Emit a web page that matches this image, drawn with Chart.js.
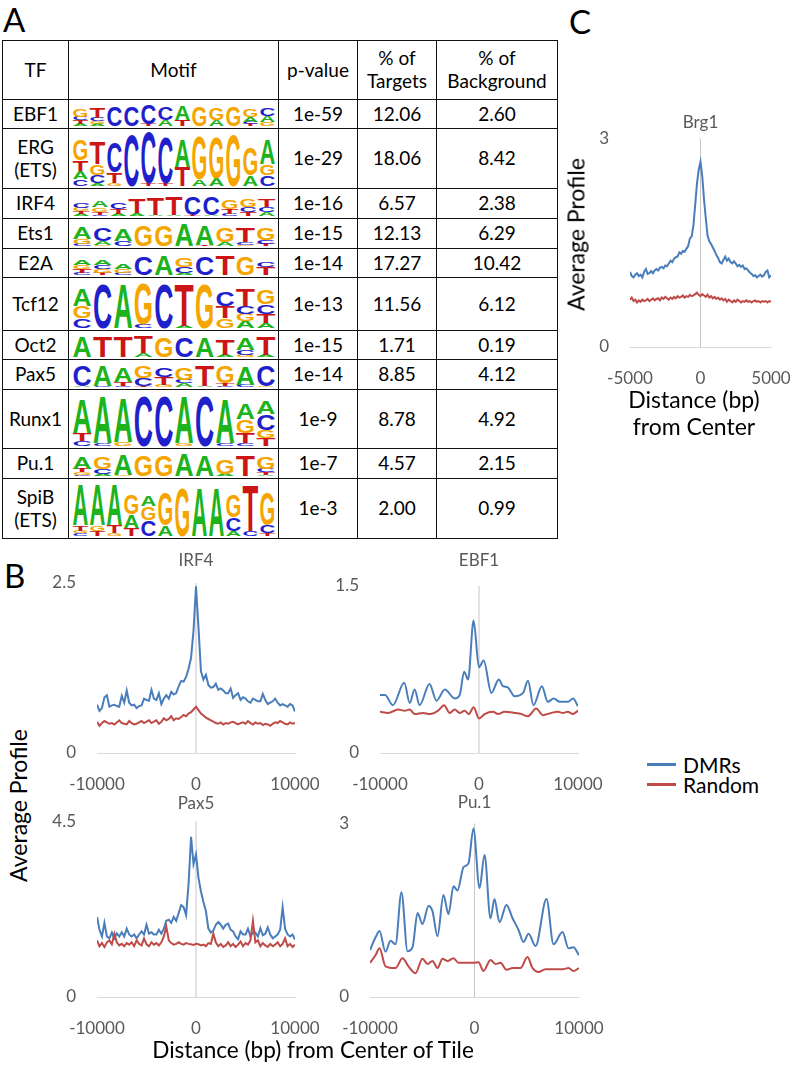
<!DOCTYPE html>
<html>
<head>
<meta charset="utf-8">
<title>Motif enrichment and binding profiles</title>
<script src="https://cdn.jsdelivr.net/npm/chart.js@4.4.1/dist/chart.umd.min.js"></script>
<style>
  body { margin: 0; background: #fff; }
  #page { position: relative; width: 793px; height: 1066px; overflow: hidden; font-family: Lato, "Open Sans", sans-serif; color: #000; }
  .txt { position: absolute; white-space: nowrap; line-height: 1; }
  #motifs { position: absolute; left: 2px; top: 40px; border-collapse: collapse; table-layout: fixed; font-size: 19px; }
  #motifs td { border: 1.5px solid #111; text-align: center; vertical-align: middle; padding: 0; line-height: 1.2; }
  #motifs svg { display: block; margin: 0 auto; }
</style>
</head>
<body>
<div id="page"></div>
<script>
// ---- panel A table ----
const tfNames = ["EBF1", "ERG\n(ETS)", "IRF4", "Ets1", "E2A", "Tcf12", "Oct2", "Pax5", "Runx1", "Pu.1", "SpiB\n(ETS)"];
const pValues = ["1e-59", "1e-29", "1e-16", "1e-15", "1e-14", "1e-13", "1e-15", "1e-14", "1e-9", "1e-7", "1e-3"];
const pctTargets = ["12.06", "18.06", "6.57", "12.13", "17.27", "11.56", "1.71", "8.85", "8.78", "4.57", "2.00"];
const pctBackground = ["2.60", "8.42", "2.38", "6.29", "10.42", "6.12", "0.19", "4.12", "4.92", "2.15", "0.99"];
// letter + relative height, top to bottom, columns split by |
const motifs = [
  "G30 C15 T15 A8|T45 C15 G12 A8|C85|C85|C85 T8|C55 A25|A60 T25|G85|G50 A25|G85|G35 A20 C10 T8|C35 A25 G15",
  "G38 T20 A15 C12|T42 G20 C15 A5|C55 T20 G5|C95|C95 T5|C85 T5|A50 T35|G80 A12|G75 A15|G95|G50 A20|A45 G20 C20",
  "C22 G14 T12 A8|A25 G18 T12 C6|C25 T20 A10|T60 A12|T70 A6|T72 A6|C75 T5|C75 A5|G35 T20 C8|G30 C20 T15|T30 C20 A15",
  "A45 G20 C10|C55 A15 G5|A50 C20|G85|G85|A90|A80 T5|G60 A15|T60 C10 G5|G45 C15 T10",
  "A20 G15 T15 C10|A20 C15 G15 T10|A20 G15 C10|C80|A85|G40 C25 A8|C80|T85|G75|C20 T35",
  "A35 G25 C20|C95|A95|G85 C8|C95|T90 A5|G95|C30 T25 G20|T35 C15 G15 A15|G30 C20 T20 A10",
  "A90|T90|T90|T70 A15|G85|C85|A85|T65 A10|A50 C20 G10|T75 A10",
  "C85 A5|A85 C5|A60 T15 C5|G45 C30 T5|C35 T30 G10|G45 C15 A15|T85 A5|G70 T10 C5|A75 C10|C85 G5",
  "A65 T15 C10|A90 C5|A85 G8|C95|C95|A90 G5|C95|A85 C5|A30 G25 T20 C5|A25 C30 G15 T15",
  "A45 T15 G10 C5|G45 C20 A10|A85 G5|G85|G85|A90|A85|G60 A10|T85|G50 C15 T10 A5",
  "A75 T10 G5 C5|A75 G10 T10|A75 T15 G5|G35 A25 T15|A20 G25 C30|G60 A20|G90|A90|A90|G40 C25 A10|T85 C10|G60 C15 T5"
];
const rowHeights = [29, 60, 30, 30, 29, 53, 29, 30, 59, 30, 60];
const colWidths = [66, 210, 79, 79, 121];

// ---- panel B / C profiles ----
const blue = "#4a7ebb";
const red = "#be4b48";
const grid250 = Array.from({ length: 81 }, (_, i) => -10000 + i * 250);
const grid125 = Array.from({ length: 81 }, (_, i) => -5000 + i * 125);

const irf4Dmr = [0.71,0.62,0.66,0.82,0.85,0.68,0.70,0.71,0.69,0.68,
  0.84,0.74,0.92,0.74,0.70,0.71,0.66,0.69,0.70,0.80,
  0.78,0.77,0.93,0.80,0.78,0.88,0.72,0.80,0.85,0.80,
  0.90,0.86,0.88,0.98,1.06,1.05,1.12,1.24,1.40,1.80,
  2.45,1.85,1.20,1.08,1.15,1.00,0.96,0.97,1.02,0.93,
  0.95,0.92,0.88,0.88,0.95,0.81,0.85,0.88,0.78,0.82,
  0.80,0.76,0.74,0.80,0.78,0.76,0.76,0.87,0.78,0.72,
  0.74,0.76,0.80,0.74,0.70,0.72,0.70,0.68,0.72,0.70,
  0.61];
const irf4Rnd = [0.46,0.40,0.44,0.47,0.45,0.43,0.44,0.42,0.45,0.48,
  0.44,0.43,0.42,0.47,0.44,0.42,0.43,0.45,0.47,0.44,
  0.46,0.48,0.44,0.46,0.48,0.43,0.46,0.51,0.48,0.50,
  0.54,0.48,0.51,0.50,0.53,0.56,0.54,0.58,0.60,0.64,
  0.68,0.63,0.58,0.55,0.52,0.50,0.48,0.46,0.44,0.43,
  0.45,0.42,0.44,0.43,0.45,0.46,0.44,0.42,0.44,0.45,
  0.43,0.47,0.44,0.42,0.45,0.43,0.44,0.41,0.43,0.42,
  0.40,0.43,0.45,0.44,0.47,0.45,0.43,0.42,0.45,0.43,
  0.44];

const ebf1DmrPos = [-10000,-9500,-8700,-7550,-7000,-6500,-6000,-5000,-4300,-3450,-2450,-1950,-1500,-1100,-550,0,470,1250,2000,2420,2900,3600,4450,4950,5500,6350,6950,7550,8150,9000,9500,10000];
const ebf1Dmr = [0.52,0.52,0.43,0.63,0.45,0.57,0.43,0.62,0.47,0.57,0.49,0.52,0.73,0.66,1.19,0.77,0.83,0.54,0.66,0.60,0.59,0.51,0.54,0.65,0.43,0.60,0.46,0.49,0.46,0.46,0.49,0.42];
const ebf1RndPos = [-10000,-9180,-8170,-7500,-7000,-6490,-5650,-4970,-4130,-3530,-2960,-2450,-1950,-1450,-1040,-540,0,570,1410,1920,2590,3600,4270,4940,5780,6450,7290,7970,8470,8970,9480,10000];
const ebf1Rnd = [0.37,0.36,0.39,0.38,0.39,0.35,0.36,0.35,0.38,0.43,0.36,0.39,0.36,0.38,0.35,0.41,0.31,0.35,0.37,0.35,0.37,0.36,0.35,0.33,0.40,0.34,0.36,0.37,0.36,0.37,0.35,0.38];

const pax5Dmr = [2.05,1.72,1.55,1.90,1.55,1.50,1.65,1.50,1.63,1.55,
  1.66,1.55,1.75,1.60,1.55,1.60,1.50,1.60,1.68,1.60,
  1.85,1.62,1.66,1.60,1.60,1.72,1.62,1.75,1.95,1.98,
  1.90,2.05,1.95,2.15,2.35,2.30,2.10,2.90,4.10,3.40,
  3.65,3.05,2.70,2.43,2.20,1.75,1.65,1.70,1.85,1.92,
  1.85,1.75,1.85,1.88,1.72,1.68,1.55,1.48,1.68,1.60,
  1.60,1.75,1.55,1.65,1.65,1.55,1.76,1.58,1.62,1.78,
  1.60,1.50,1.55,1.60,1.72,2.30,1.75,1.60,1.55,1.60,
  1.47];
const pax5Rnd = [1.45,1.30,1.38,1.28,1.40,1.45,1.35,1.62,1.40,1.32,
  1.36,1.30,1.38,1.34,1.40,1.30,1.45,1.36,1.32,1.50,
  1.35,1.30,1.40,1.34,1.38,1.32,1.40,1.55,1.80,1.45,
  1.38,1.34,1.36,1.40,1.36,1.34,1.38,1.36,1.35,1.33,
  1.36,1.35,1.32,1.34,1.30,1.38,1.36,1.62,1.40,1.30,
  1.36,1.28,1.32,1.40,1.30,1.36,1.28,1.34,1.42,1.30,
  1.38,1.34,1.45,1.95,1.40,1.45,1.30,1.38,1.32,1.28,
  1.36,1.30,1.34,1.40,1.30,1.36,1.50,1.30,1.36,1.28,
  1.34];

const pu1DmrPos = [-10000,-9470,-9090,-8520,-8040,-7560,-6990,-6410,-5930,-5450,-4980,-4400,-4020,-3540,-2970,-2490,-2010,-1630,-1050,-570,-100,480,960,1530,1910,2390,3060,3640,4210,4690,5170,5840,6890,7560,8420,9000,9470,10000];
const pu1Dmr = [0.81,1.03,1.14,0.78,0.97,0.91,1.81,0.79,0.86,1.45,1.26,1.57,1.48,1.05,1.76,1.43,1.91,1.84,2.24,2.31,2.91,1.88,2.45,1.36,1.69,1.29,1.59,1.36,1.16,0.95,1.09,0.88,1.69,0.91,1.12,0.84,0.86,0.72];
const pu1RndPos = [-10000,-9470,-9090,-8520,-7560,-6890,-6320,-5650,-4980,-4500,-4020,-3540,-3060,-2580,-2010,-1530,-860,-100,380,860,1530,2010,2490,3060,3640,4400,5070,5550,6120,6790,7750,8420,9000,9470,10000];
const pu1Rnd = [0.59,0.72,0.84,0.53,0.50,0.67,0.53,0.41,0.66,0.57,0.62,0.50,0.66,0.62,0.67,0.59,0.59,0.59,0.60,0.45,0.64,0.57,0.59,0.47,0.50,0.50,0.69,0.50,0.43,0.48,0.48,0.48,0.50,0.45,0.50];

const brg1Dmr = [1.08,1.02,1.00,1.04,1.06,1.02,1.04,1.00,1.08,1.12,
  1.05,1.06,1.09,1.06,1.10,1.12,1.10,1.14,1.15,1.13,
  1.17,1.16,1.20,1.24,1.22,1.27,1.29,1.30,1.36,1.34,
  1.38,1.37,1.41,1.45,1.56,1.59,1.75,2.05,2.35,2.55,
  2.66,2.45,2.12,1.85,1.60,1.52,1.48,1.43,1.38,1.32,
  1.28,1.22,1.20,1.25,1.30,1.24,1.27,1.22,1.20,1.23,
  1.20,1.16,1.18,1.15,1.17,1.12,1.13,1.10,1.07,1.05,
  1.02,1.03,1.00,1.02,1.04,1.01,1.03,1.08,1.10,1.00,
  1.03];
const brg1Rnd = [0.68,0.71,0.66,0.68,0.64,0.67,0.65,0.68,0.66,0.67,
  0.69,0.66,0.68,0.70,0.67,0.69,0.70,0.67,0.71,0.69,
  0.72,0.70,0.68,0.71,0.69,0.72,0.70,0.73,0.71,0.72,
  0.74,0.71,0.73,0.72,0.75,0.73,0.74,0.76,0.78,0.75,
  0.73,0.76,0.74,0.72,0.75,0.71,0.73,0.70,0.72,0.69,
  0.71,0.68,0.70,0.67,0.69,0.65,0.68,0.66,0.64,0.67,
  0.65,0.68,0.66,0.64,0.66,0.65,0.67,0.65,0.66,0.64,
  0.66,0.67,0.65,0.66,0.64,0.66,0.65,0.66,0.64,0.66,
  0.65];

const page = document.getElementById("page");

function text(str, x, capY, size, opts = {}) {
  const d = document.createElement("div");
  d.className = "txt";
  d.textContent = str;
  d.style.fontSize = size + "px";
  d.style.left = x + "px";
  d.style.top = (capY - 0.529 * size) + "px";
  if (opts.center) d.style.transform = "translateX(-50%)";
  if (opts.rotate) {
    d.style.top = (capY - 0.5 * size) + "px";
    d.style.transform = "translateX(-50%) rotate(-90deg)";
  }
  if (opts.color) d.style.color = opts.color;
  page.appendChild(d);
}

// sequence logo as svg letters
const baseColors = { A: "#1db31d", C: "#1f1fcc", G: "#f5a500", T: "#cc1616" };
function logoSvg(spec, w, h) {
  const cols = spec.split("|");
  const cw = w / cols.length;
  const full = h - 2;
  let s = `<svg width="${w}" height="${h}" viewBox="0 0 ${w} ${h}">`;
  cols.forEach((col, i) => {
    const parts = col.trim().split(/\s+/).map(p => [p[0], +p.slice(1) / 100]);
    let yb = h - 1;
    for (let k = parts.length - 1; k >= 0; k--) {
      const [ch, f] = parts[k];
      const lh = f * full;
      s += `<text transform="translate(${(i * cw + 0.6).toFixed(2)},${yb.toFixed(2)}) scale(1,${(lh / 72).toFixed(4)})" ` +
        `font-family="Liberation Sans, Arial, sans-serif" font-weight="bold" font-size="100" ` +
        `textLength="${(cw - 1.2).toFixed(2)}" lengthAdjust="spacingAndGlyphs" fill="${baseColors[ch]}">${ch}</text>`;
      yb -= lh;
    }
  });
  return s + "</svg>";
}

function buildTable() {
  const tbl = document.createElement("table");
  tbl.id = "motifs";
  tbl.style.width = colWidths.reduce((a, b) => a + b, 0) + "px";
  const cg = document.createElement("colgroup");
  colWidths.forEach(w => {
    const c = document.createElement("col");
    c.style.width = w + "px";
    cg.appendChild(c);
  });
  tbl.appendChild(cg);
  const head = ["TF", "Motif", "p-value", "% of<br>Targets", "% of<br>Background"];
  let html = `<tr style="height:59px">${head.map(t => `<td>${t}</td>`).join("")}</tr>`;
  tfNames.forEach((tf, i) => {
    const h = rowHeights[i];
    html += `<tr style="height:${h}px"><td>${tf.replace("\n", "<br>")}</td>` +
      `<td>${logoSvg(motifs[i], 204, h - 3)}</td>` +
      `<td>${pValues[i]}</td><td>${pctTargets[i]}</td><td>${pctBackground[i]}</td></tr>`;
  });
  tbl.insertAdjacentHTML("beforeend", html);
  page.appendChild(tbl);
}

const grey = "#595959";
const tickFont = { family: "Lato", size: 17 };

function profileChart(cfg) {
  // right padding must exceed half the last x label plus the tick padding
  const yW = 50, xH = 50, rp = 48;
  const top = cfg.titleY - 10;
  const tb = cfg.T - top;
  const w = yW + cfg.R - cfg.L + rp;
  const h = tb + cfg.B - cfg.T + xH;
  const cv = document.createElement("canvas");
  cv.width = w;
  cv.height = h;
  Object.assign(cv.style, { position: "absolute", left: (cfg.L - yW) + "px", top: top + "px", width: w + "px", height: h + "px" });
  page.appendChild(cv);

  const line = (xs, ys, color, order) => ({
    data: xs.map((x, i) => ({ x, y: ys[i] })),
    borderColor: color,
    borderWidth: 2,
    pointRadius: 0,
    fill: false,
    order,
    tension: 0,
    cubicInterpolationMode: cfg.smooth ? "monotone" : "default"
  });

  new Chart(cv, {
    type: "line",
    data: {
      datasets: [
        line(cfg.dmrX, cfg.dmr, blue, 2),
        line(cfg.rndX, cfg.rnd, red, 1),
        { data: [{ x: 0, y: 0 }, { x: 0, y: cfg.yMax }], borderColor: "#c6c6c6", borderWidth: 1, pointRadius: 0, order: 3 }
      ]
    },
    options: {
      responsive: false,
      animation: false,
      devicePixelRatio: 1,
      layout: { padding: { left: 0, top: 0, bottom: 0, right: rp } },
      plugins: {
        legend: { display: false },
        tooltip: { enabled: false },
        title: {
          display: true,
          text: cfg.title,
          color: grey,
          fullSize: false,
          font: { family: "Lato", size: 17, weight: "normal", lineHeight: 1.2 },
          padding: { top: 0, bottom: tb - 20.4 }
        }
      },
      scales: {
        x: {
          type: "linear",
          min: cfg.xMin,
          max: -cfg.xMin,
          afterFit: s => { s.height = xH; },
          ticks: { stepSize: -cfg.xMin, color: grey, font: tickFont, padding: 21, maxRotation: 0, autoSkip: false, callback: v => String(v) },
          grid: { display: false, drawTicks: false },
          border: { display: true, color: "#d9d9d9", width: 1 }
        },
        y: {
          min: 0,
          max: cfg.yMax,
          afterFit: s => { s.width = yW; },
          ticks: { stepSize: cfg.yMax, color: grey, font: tickFont, padding: 21, callback: v => String(v) },
          grid: { display: false, drawTicks: false },
          border: { display: false }
        }
      }
    }
  });
}

buildTable();

profileChart({ title: "IRF4", L: 97, R: 295, T: 583, B: 753, titleY: 560, xMin: -10000, yMax: 2.5,
  dmrX: grid250, dmr: irf4Dmr, rndX: grid250, rnd: irf4Rnd });
profileChart({ title: "EBF1", L: 380, R: 578, T: 586, B: 753, titleY: 560, xMin: -10000, yMax: 1.5, smooth: true,
  dmrX: ebf1DmrPos, dmr: ebf1Dmr, rndX: ebf1RndPos, rnd: ebf1Rnd });
profileChart({ title: "Pax5", L: 97, R: 295, T: 818, B: 997, titleY: 800, xMin: -10000, yMax: 4.5,
  dmrX: grid250, dmr: pax5Dmr, rndX: grid250, rnd: pax5Rnd });
profileChart({ title: "Pu.1", L: 370, R: 579, T: 823, B: 997, titleY: 802, xMin: -10000, yMax: 3, smooth: true,
  dmrX: pu1DmrPos, dmr: pu1Dmr, rndX: pu1RndPos, rnd: pu1Rnd });
profileChart({ title: "Brg1", L: 630, R: 771, T: 133, B: 347, titleY: 117, xMin: -5000, yMax: 3,
  dmrX: grid125, dmr: brg1Dmr, rndX: grid125, rnd: brg1Rnd });

// panel letters and axis titles
text("A", 3, 20, 33);
text("B", 4, 576, 33);
text("C", 569, 22, 33);
text("Average Profile", 18, 805, 23, { rotate: true });
text("Distance (bp) from Center of Tile", 313, 1051, 22.6, { center: true });
text("Average Profile", 576, 234, 23, { rotate: true });
text("Distance (bp)", 694, 400, 23, { center: true });
text("from Center", 694, 427, 23, { center: true });

// legend
[["DMRs", blue, 764], ["Random", red, 784]].forEach(([name, color, y]) => {
  const seg = document.createElement("div");
  Object.assign(seg.style, { position: "absolute", left: "647px", top: (y - 1.5) + "px", width: "29px", height: "3px", background: color });
  page.appendChild(seg);
  text(name, 683, y + 1, 21);
});
</script>
</body>
</html>
